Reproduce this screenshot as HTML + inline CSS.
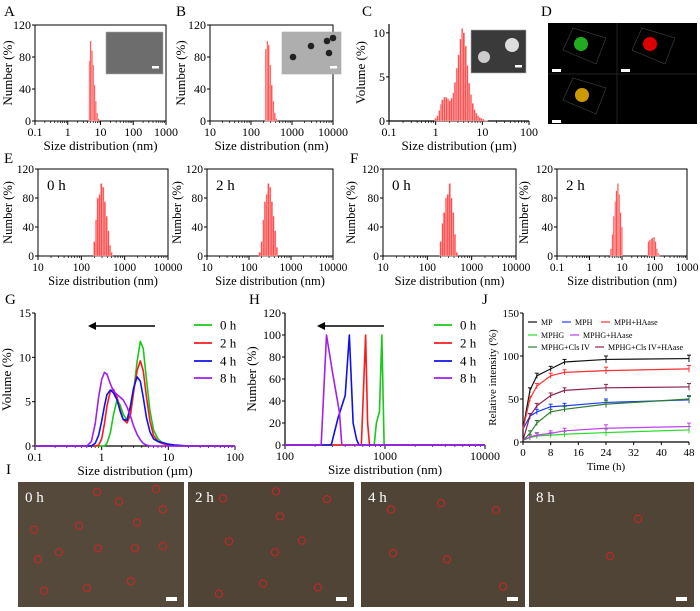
<!DOCTYPE html>
<html><head><meta charset="utf-8"><style>
html,body{margin:0;padding:0;background:#fff}
svg{display:block;font-family:"Liberation Serif",serif}
</style></head><body>
<svg id="fig" width="700" height="611" viewBox="0 0 700 611" xmlns="http://www.w3.org/2000/svg">
<g font-size="15" fill="#000">
<text x="4" y="16">A</text>
<text x="176" y="16">B</text>
<text x="362" y="16">C</text>
<text x="541" y="16">D</text>
<text x="4" y="163">E</text>
<text x="350" y="163">F</text>
<text x="5" y="304">G</text>
<text x="249" y="304">H</text>
<text x="482" y="304">J</text>
<text x="6" y="474">I</text>
</g>
<g>
<rect x="548" y="23" width="149" height="101" fill="#000"/>
<line x1="617" y1="23" x2="617" y2="124" stroke="#222"/>
<line x1="548" y1="74" x2="697" y2="74" stroke="#222"/>
<g fill="none" stroke="#444" stroke-width="0.6">
<polygon points="563,50 573,28 606,38 596,64"/><polygon points="632,50 642,28 675,38 665,64"/><polygon points="563,100 573,78 606,88 596,114"/>
</g>
<circle cx="581" cy="44" r="7" fill="#2a2"/><circle cx="650" cy="44" r="7" fill="#d00"/><circle cx="582" cy="95" r="7" fill="#c90"/>
<rect x="552" y="69" width="9" height="3" fill="#fff"/><rect x="621" y="69" width="9" height="3" fill="#fff"/><rect x="552" y="120" width="9" height="3" fill="#fff"/>
</g>
<g id="charts"></g>
<g id="micro"></g>
</svg>
<script>
const NS="http://www.w3.org/2000/svg";
const root=document.getElementById('charts');
function el(tag,attrs,parent,text){const e=document.createElementNS(NS,tag);for(const k in attrs)e.setAttribute(k,attrs[k]);if(text!==undefined)e.textContent=text;(parent||root).appendChild(e);return e;}

const aSizes=[4.6,5.0,5.5,6.0,6.6,7.2,7.9,8.7];
const aValues=[75,100,88,70,45,25,10,3];
const bSizes=[230,250,270,295,320,350,380,415];
const bValues=[90,100,95,70,45,25,10,3];
const cSizes=[1.0,1.1,1.2,1.3,1.4,1.55,1.7,1.85,2.0,2.2,2.4,2.6,2.85,3.1,3.4,3.7,4.0,4.4,4.8,5.2,5.7,6.2,6.8,7.4,8.1,8.8,9.6,10.5,11.5,12.5];
const cValues=[0.3,0.6,1.2,1.9,2.4,2.7,2.7,2.5,2.3,2.6,3.2,4.4,6.0,7.5,9.3,10.5,10.0,8.5,6.3,4.3,3.0,2.0,1.3,0.9,0.6,0.4,0.3,0.2,0.1,0.05];
const e0Sizes=[200,220,240,265,290,320,350,385,420,460,500];
const e0Values=[20,50,80,85,100,95,75,55,35,15,5];
const e2Sizes=[180,200,220,240,265,290,320,350,385,420,460];
const e2Values=[5,20,50,75,85,100,95,75,55,35,12];
const f0Sizes=[200,220,240,265,290,320,350,385,420,460];
const f0Values=[20,45,60,80,85,100,80,60,30,5];
const f2Sizes=[4.6,5.1,5.6,6.2,6.8,7.5,8.2,9.0,9.9,65,72,80,88,97,107,118,130,143];
const f2Values=[10,30,55,75,90,100,85,60,40,20,22,24,25,26,20,10,4,2];

const gX=[0.1,0.6,0.7,0.8,0.9,1.0,1.1,1.2,1.35,1.5,1.7,1.9,2.1,2.4,2.7,3.0,3.4,3.8,4.2,4.7,5.3,6,7,8,10,13,20,100];
const g0h=[0,0,0,0,0,0,0,0.3,1.5,3.5,5.2,4.6,3.6,2.9,3.5,6,9.5,11.8,11,7.5,4,1.8,0.8,0.4,0.2,0,0,0];
const g2h=[0,0,0,0,0.1,0.8,2.5,4.5,6.2,6.4,5.5,4,3,2.6,3.5,6,8.5,9.6,8.5,5.5,2.8,1.2,0.5,0.3,0.1,0,0,0];
const g4h=[0,0,0,0.3,1.2,2.8,4.5,5.8,6.3,6,5.2,3.9,3,2.9,4.5,6.5,7.8,7.3,5.5,3.2,1.6,0.8,0.5,0.4,0.2,0.1,0,0];
const g8h=[0,0,0.5,2.5,5.5,7.5,8.3,8.1,7,6.2,5.8,5.5,5.2,4.4,3.4,2.3,1.3,0.7,0.3,0.1,0,0,0,0,0,0,0,0];

const h0X=[100,780,820,880,930,980,10000], h0Y=[0,0,20,30,100,0,0];
const h2X=[100,580,640,670,700,10000], h2Y=[0,0,100,20,0,0];
const h4X=[100,290,340,400,440,480,520,550,10000], h4Y=[0,0,25,45,100,20,5,0,0];
const h8X=[100,230,260,300,350,370,10000], h8Y=[0,0,100,65,30,0,0];

const jTime=[0,2,4,8,12,24,48];
const jMP=[15,60,77,85,93,96,97];
const jMPH=[15,30,35,41,42,46,49];
const jMPHHA=[15,50,65,77,81,83,85];
const jMPHG=[2,5,7,8,9,11,14];
const jMPHGHA=[2,6,8,10,13,16,18];
const jMPHGCls=[2,10,22,35,38,44,50];
const jMPHGClsHA=[2,30,42,54,60,63,64];
const jErr=[0,3,3,3,3,4,4];
const legendTimes=['0 h','2 h','4 h','8 h'];

function logAxis(o){
 const g=el('g',{});
 
 
 const lx=v=>o.x0+(Math.log10(v)-Math.log10(o.dmin))/(Math.log10(o.dmax)-Math.log10(o.dmin))*(o.x1-o.x0);
 const ly=v=>o.y1-(v/o.ymax)*(o.y1-o.y0);
 o.g=g;o.sx=lx;o.sy=ly;
 return o;
}
function frame(o,box){
 const g=o.g;
 if(box) el('rect',{x:o.x0,y:o.y0,width:o.x1-o.x0,height:o.y1-o.y0,fill:'none',stroke:'#000','stroke-width':1},g);
 else { el('line',{x1:o.x0,y1:o.y0,x2:o.x0,y2:o.y1,stroke:'#000','stroke-width':1.2},g); el('line',{x1:o.x0,y1:o.y1,x2:o.x1,y2:o.y1,stroke:'#000','stroke-width':1.2},g);}
 o.yticks.forEach(t=>{const y=o.sy(t);el('line',{x1:o.x0-3,y1:y,x2:o.x0,y2:y,stroke:'#000'},g);
  const tx=el('text',{x:o.x0-4,y:y+4,'text-anchor':'end','font-size':o.fs||12},g,String(t));
  });
 const lmin=Math.round(Math.log10(o.dmin)),lmax=Math.round(Math.log10(o.dmax));
 for(let d=lmin;d<=lmax;d++){
  const v=Math.pow(10,d);const x=o.sx(v);
  if(x<=o.x1+0.5){el('line',{x1:x,y1:o.y1,x2:x,y2:o.y1+4,stroke:'#000'},g);}
  const lab=v<1?String(v):String(Math.round(v));
  const tx=el('text',{x:x,y:o.y1+15,'text-anchor':'middle','font-size':o.fs||12},g,lab);
  
  if(d<lmax)for(let m=2;m<10;m++){const xm=o.sx(v*m);if(xm<=o.x1)el('line',{x1:xm,y1:o.y1,x2:xm,y2:o.y1+2,stroke:'#000','stroke-width':0.7},g);}
 }
 const xt=el('text',{x:(o.x0+o.x1)/2,y:o.y1+29,'text-anchor':'middle','font-size':o.tfs||13},g,o.xtitle);
 
 const yt=el('text',{x:0,y:0,'text-anchor':'middle','font-size':o.tfs||13,transform:`translate(${o.yx},${(o.y0+o.y1)/2}) rotate(-90)`},g,o.ytitle);
 
}
function bars(o,sizes,vals,color){
 sizes.forEach((s,i)=>{
  let ratio=1.09;
  if(i<sizes.length-1&&sizes[i+1]/s<1.3)ratio=sizes[i+1]/s;else if(i>0&&s/sizes[i-1]<1.3)ratio=s/sizes[i-1];
  const xa=o.sx(s/Math.sqrt(ratio)),xb=o.sx(s*Math.sqrt(ratio));
  const y=o.sy(vals[i]);
  const r=el('rect',{x:xa,y:y,width:Math.max(0.8,xb-xa),height:o.y1-y,fill:color||'#ff4a4a',stroke:'#ffd0d0','stroke-width':0.4},o.g);
  
  
 });
}
function line(o,xs,ys,color,name){
 const d=xs.map((x,i)=>(i?'L':'M')+o.sx(x).toFixed(2)+','+o.sy(ys[i]).toFixed(2)).join(' ');
 const p=el('path',{d:d,fill:'none',stroke:color,'stroke-width':1.6,'stroke-linejoin':'round'},o.g);
 
 
}
function inset(x,y,w,h,fill,name){
 const g=el('g',{});
 
 
 el('rect',{x,y,width:w,height:h,fill,stroke:'#aaa','stroke-width':0.6},g);
 el('rect',{x:x+w-11,y:y+h-8,width:7,height:2.5,fill:'#fff'},g);
 return g;
}

const A=logAxis({name:'chart-a',x0:35,x1:166,y0:25,y1:121,dmin:0.1,dmax:1000,ymax:120,yticks:[0,40,80,120],xtitle:'Size distribution (nm)',ytitle:'Number  (%)',yx:12});
frame(A,true);bars(A,aSizes,aValues);
inset(106,32,57,42,'#6d6d6d','tem-inset-a');
const B=logAxis({name:'chart-b',x0:210,x1:333,y0:25,y1:121,dmin:10,dmax:10000,ymax:120,yticks:[0,40,80,120],xtitle:'Size distribution (nm)',ytitle:'Number  (%)',yx:185});
frame(B,true);bars(B,bSizes,bValues);
const bi=inset(282,32,59,42,'#aeaeae','tem-inset-b');
[[293,57],[311,46],[327,41],[333,38],[329,53]].forEach(p=>el('circle',{cx:p[0],cy:p[1],r:3.3,fill:'#222'},bi));
const C=logAxis({name:'chart-c',x0:389,x1:529,y0:24,y1:121,dmin:0.1,dmax:100,ymax:11,yticks:[0,5,10],xtitle:'Size distribution (\u00b5m)',ytitle:'Volume (%)',yx:365});
frame(C,false);bars(C,cSizes,cValues,'#ff5050');
const ci=inset(471,30,55,43,'#3a3a3a','sem-inset-c');
el('circle',{cx:484,cy:57,r:6,fill:'#ccc'},ci);el('circle',{cx:512,cy:45,r:7,fill:'#ddd'},ci);
function small(name,x0,x1,dmin,dmax,sizes,vals,lab,yx){
 const o=logAxis({name,x0,x1,y0:169,y1:256,dmin,dmax,ymax:120,yticks:[0,40,80,120],xtitle:'Size distribution (nm)',ytitle:'Number  (%)',yx,fs:11.5,tfs:12.5});
 frame(o,true);bars(o,sizes,vals);
 const t=el('text',{x:x0+9,y:190,'font-size':15},o.g,lab);
 
}
small('chart-e-0h',38,168,10,10000,e0Sizes,e0Values,'0 h',12);
small('chart-e-2h',207,333,10,10000,e2Sizes,e2Values,'2 h',181);
small('chart-f-0h',383,516,10,10000,f0Sizes,f0Values,'0 h',355);
small('chart-f-2h',557,687,0.1,1000,f2Sizes,f2Values,'2 h',528);
const colors=['#19c819','#ff1a1a','#1010ee','#a020f0'];
function legend(g,x,ys){legendTimes.forEach((t,i)=>{
 const le=el('g',{},g);
 el('line',{x1:x,y1:ys[i],x2:x+18,y2:ys[i],stroke:colors[i],'stroke-width':1.8},le);
 el('text',{x:x+26,y:ys[i]+4.5,'font-size':13},le,t);});}
function arrow(g,xa,xb,y){el('line',{x1:xa,y1:y,x2:xb+6,y2:y,stroke:'#000','stroke-width':1.5},g);
 el('polygon',{points:`${xb},${y} ${xb+8},${y-4} ${xb+8},${y+4}`,fill:'#000'},g);}
const G=logAxis({name:'chart-g',x0:35,x1:235,y0:313,y1:446,dmin:0.1,dmax:100,ymax:15,yticks:[0,5,10,15],xtitle:'Size distribution (\u00b5m)',ytitle:'Volume (%)',yx:11});
frame(G,false);
[g0h,g2h,g4h,g8h].forEach((s,i)=>line(G,gX,s,colors[i],'curve-'+legendTimes[i].replace(' ','')));
legend(G.g,194,[325,343,361,378]);arrow(G.g,155,88,326);
const H=logAxis({name:'chart-h',x0:285,x1:485,y0:313,y1:445,dmin:100,dmax:10000,ymax:120,yticks:[0,20,40,60,80,100,120],xtitle:'Size distribution (nm)',ytitle:'Number (%)',yx:256});
frame(H,false);
[[h0X,h0Y],[h2X,h2Y],[h4X,h4Y],[h8X,h8Y]].forEach((s,i)=>line(H,s[0],s[1],colors[i],'line-'+legendTimes[i].replace(' ','')));
legend(H.g,434,[325,343,361,378]);arrow(H.g,384,317,326);
(function(){
 const g=el('g',{});
 const x0=523,x1=689,y0=313,y1=442;
 const sx=t=>x0+t/48*(x1-x0), sy=v=>y1-v/150*(y1-y0);
 el('line',{x1:x0,y1:y0,x2:x0,y2:y1,stroke:'#000','stroke-width':1.2},g);el('line',{x1:x0,y1:y1,x2:x1,y2:y1,stroke:'#000','stroke-width':1.2},g);
 [0,50,100,150].forEach(v=>{el('line',{x1:x0-3,y1:sy(v),x2:x0,y2:sy(v),stroke:'#000'},g);el('text',{x:x0-4,y:sy(v)+4,'text-anchor':'end','font-size':11},g,String(v));});
 [0,8,16,24,32,40,48].forEach(v=>{el('line',{x1:sx(v),y1:y1,x2:sx(v),y2:y1+3,stroke:'#000'},g);el('text',{x:sx(v),y:y1+14,'text-anchor':'middle','font-size':11},g,String(v));});
 el('text',{x:(x0+x1)/2,y:470,'text-anchor':'middle','font-size':11},g,'Time (h)');
 el('text',{x:0,y:0,'text-anchor':'middle','font-size':11,transform:`translate(496,${(y0+y1)/2}) rotate(-90)`},g,'Relative intensity (%)');
 const series=[[jMP,'#111','MP'],[jMPH,'#1a3cff','MPH'],[jMPHHA,'#ff3030','MPH+HAase'],[jMPHG,'#22e022','MPHG'],[jMPHGHA,'#c040f0','MPHG+HAase'],[jMPHGCls,'#2e7d2e','MPHG+Cls IV'],[jMPHGClsHA,'#8b2252','MPHG+Cls IV+HAase']];
 series.forEach(s=>{
  const sg=el('g',{},g);
  el('path',{d:jTime.map((t,i)=>(i?'L':'M')+sx(t)+','+sy(s[0][i])).join(' '),fill:'none',stroke:s[1],'stroke-width':1.2},sg);
  jTime.forEach((t,i)=>{if(jErr[i]){el('line',{x1:sx(t),y1:sy(s[0][i]+jErr[i]),x2:sx(t),y2:sy(s[0][i]-jErr[i]),stroke:s[1]},sg);
   el('line',{x1:sx(t)-2,y1:sy(s[0][i]+jErr[i]),x2:sx(t)+2,y2:sy(s[0][i]+jErr[i]),stroke:s[1]},sg);}});
 });
 const lp=[[528,322],[562,322],[601,322],[528,335],[570,335],[528,347],[595,347]];
 series.forEach((s,i)=>{const le=el('g',{},g);
  el('line',{x1:lp[i][0],y1:lp[i][1],x2:lp[i][0]+9,y2:lp[i][1],stroke:s[1],'stroke-width':1.2},le);
  el('text',{x:lp[i][0]+13,y:lp[i][1]+3,'font-size':8},le,s[2]);});
})();
(function(){
 const m=document.getElementById('micro');
 const panels=[[18,184,'0 h',[[97,71],[119,83],[156,67],[163,93],[34,119],[79,114],[137,110],[59,148],[98,143],[135,143],[163,140],[38,157],[131,185],[44,197],[87,194]]],
  [188,354,'2 h',[[223,79],[276,70],[327,80],[280,102],[229,134],[302,133],[275,148],[263,188],[318,193],[219,201]]],
  [361,525,'4 h',[[391,93],[441,85],[496,94],[393,149],[447,157],[503,192]]],
  [529,694,'8 h',[[638,105],[610,153]]]];
 const y0=482,y1=607;
 panels.forEach((p,k)=>{
  const g=document.createElementNS(NS,'g');
  
  
  m.appendChild(g);
  el('rect',{x:p[0],y:y0,width:p[1]-p[0],height:y1-y0,fill:k===0?'#54493b':'#4f4436'},g);
  el('text',{x:p[0]+7,y:y0+20,fill:'#fff','font-size':15},g,p[2]);
  el('rect',{x:p[1]-18,y:y1-10,width:11,height:4,fill:'#fff'},g);
  const sc=(y1-y0)/160;
  p[3].forEach(c=>{el('circle',{cx:c[0],cy:y0+(c[1]-58)*sc,r:3.6,fill:'none',stroke:'#e02020','stroke-width':0.9},g);});
 });
})();
</script>
</body></html>
